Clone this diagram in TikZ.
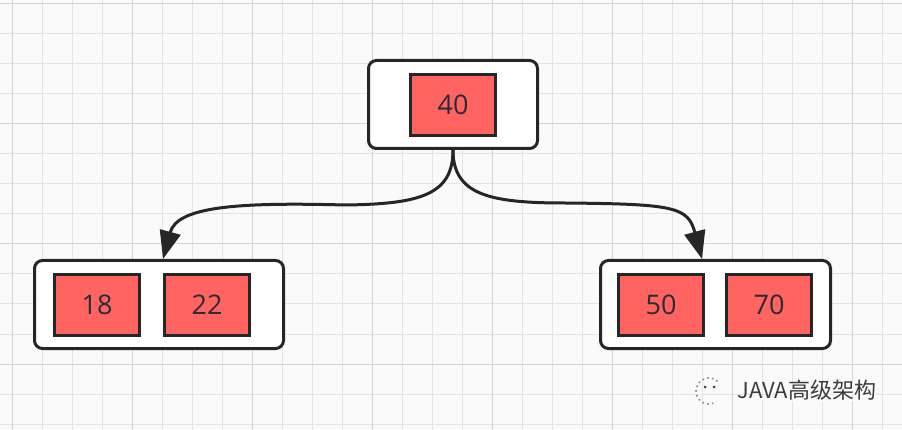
\documentclass[tikz,border=0pt]{standalone}
\usepackage{fontspec}
\setmainfont{Open Sans}
\newfontfamily\cjk{Noto Sans CJK SC}
\usetikzlibrary{arrows.meta,positioning}
\definecolor{bgc}{HTML}{FAFAFA}
\definecolor{gridc}{HTML}{E4E4E4}
\definecolor{gridd}{HTML}{D4D4D4}
\definecolor{edge}{HTML}{262626}
\definecolor{keyred}{HTML}{FF6461}
\definecolor{txt}{HTML}{2A2A38}
\definecolor{wmgray}{HTML}{3C3C3C}
\begin{document}
\begin{tikzpicture}[x=1pt,y=-1pt,
    nodebox/.style={draw=edge,line width=3pt,rounded corners=8pt,fill=white,
      minimum width=#1,minimum height=88pt,inner sep=0pt},
    keybox/.style={draw=edge,line width=3pt,fill=keyred,minimum width=85pt,
      minimum height=61pt,inner sep=0pt,text=txt,font=\fontsize{27}{30}\selectfont},
    branch/.style={draw=edge,line width=3pt,-{Triangle[length=28pt,width=21pt]}},
  ]
\useasboundingbox (0,0) rectangle (902,430);
\fill[bgc] (0,0) rectangle (902,430);
\foreach \i in {0,...,29}
  \draw[gridc,line width=1pt] ({12.7+30*\i},0) -- ++(0,430);
\foreach \j in {0,...,14}
  \draw[gridc,line width=1pt] (0,{4+30*\j}) -- ++(902,0);
\foreach \i in {0,...,7}
  \draw[gridd,line width=1pt] ({12.7+120*\i},0) -- ++(0,430);
\foreach \j in {0,...,3}
  \draw[gridd,line width=1pt] (0,{4+120*\j}) -- ++(902,0);

\node[nodebox=169pt] (root) at (453,104.5) {};
\node[keybox] (k40) at (453,105) {40};

\node[nodebox=249pt] (lbox) at (159,304.5) {};
\node[keybox] (k18) at (97,305) {18};
\node[keybox,right=22pt of k18] (k22) {22};

\node[nodebox=230pt] (rbox) at (715.5,304.5) {};
\node[keybox] (k50) at (661,305) {50};
\node[keybox,right=20pt of k50] (k70) {70};

\coordinate (lmid) at (345,205);
\coordinate (rmid) at (565,203);
\draw[branch] (root.south) .. controls +(0,45) and +(75,-1) .. (lmid)
  .. controls +(-110,-3) and +(14,-52) .. (lbox.north -| k22.west);
\draw[branch] (root.south) .. controls +(0,45) and +(-75,0) .. (rmid)
  .. controls +(110,1) and +(-14,-52) .. ([xshift=-3pt]rbox.north -| k50.east);

\coordinate (icon) at (709,391);
\draw[wmgray!60,line width=1.6pt,dash pattern=on 1.6pt off 3.2pt]
  ([shift={(70:13)}]icon) arc[start angle=70,end angle=320,radius=13];
\fill[wmgray] ([shift={(-4,-4)}]icon) circle (1.5) ([shift={(5,-4)}]icon) circle (1.5);
\node[anchor=west,text=white,font=\cjk\fontsize{22}{25}\selectfont] (wmshadow) at (735,392) {JAVA高级架构};
\node[anchor=west,text=wmgray,font=\cjk\fontsize{22}{25}\selectfont] (wm) at (734,390.5) {JAVA高级架构};
\end{tikzpicture}
\end{document}
